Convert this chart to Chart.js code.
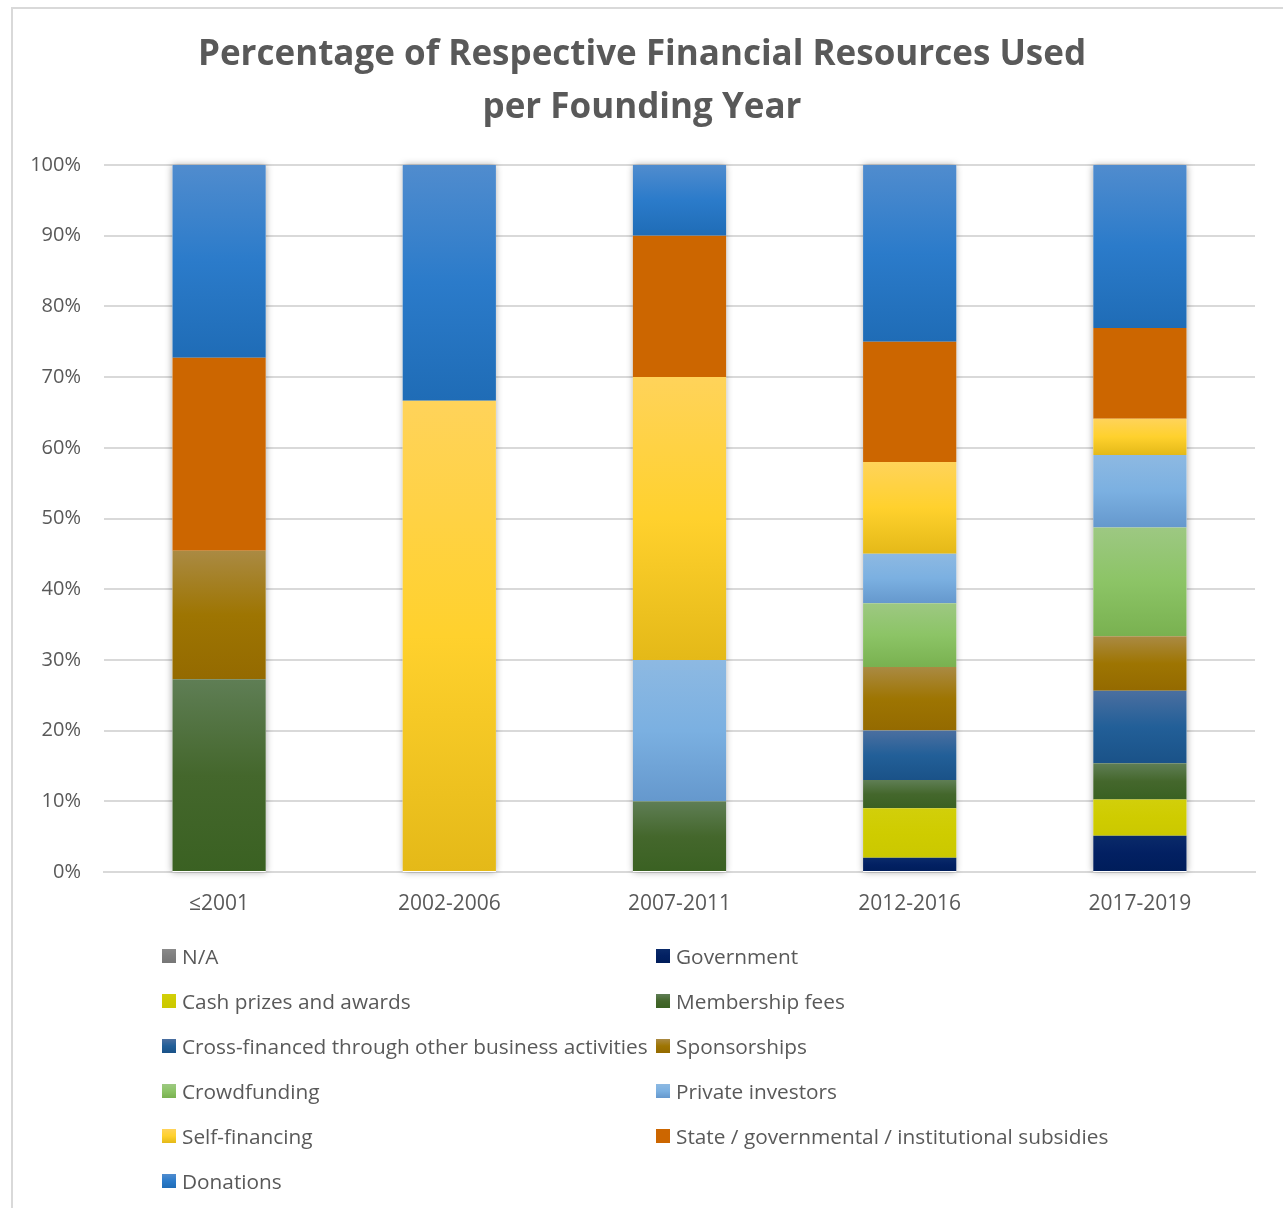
<!DOCTYPE html>
<html>
<head>
<meta charset="utf-8">
<title>Financial resources per founding year</title>
<script src="https://cdn.jsdelivr.net/npm/chart.js@4.4.1/dist/chart.umd.min.js"></script>
<style>
  body { margin: 0; background: #fff; }
  #frame {
    position: absolute; left: 11px; top: 7px; width: 1300px; height: 1230px;
    border: 2px solid #d9d9d9; box-sizing: border-box;
  }
  #wrap { position: absolute; left: 0; top: 0; width: 1283px; height: 935px; }
  #legend {
    position: absolute; left: 162px; top: 933px;
    display: grid; grid-template-columns: 494px 540px; grid-auto-rows: 45px;
    font-family: "Open Sans", sans-serif; font-size: 20.8px; color: #595959;
  }
  #legend .item { display: flex; align-items: center; white-space: nowrap; }
  #legend .box { width: 14px; height: 14px; margin-right: 6px; flex: none; }
</style>
</head>
<body>
<div id="frame"></div>
<div id="wrap"><canvas id="grafico"></canvas></div>
<div id="legend"></div>
<script>
// founding year groups
const anos = ['≤2001', '2002-2006', '2007-2011', '2012-2016', '2017-2019'];

// share (%) of each financing source, one value per year group
const naValues         = [0, 0, 0, 0, 0];
const government       = [0, 0, 0, 2, 5.13];
const cashPrizes       = [0, 0, 0, 7, 5.13];
const membershipFees   = [27.27, 0, 10, 4, 5.13];
const crossFinanced    = [0, 0, 0, 7, 10.26];
const sponsorships     = [18.18, 0, 0, 9, 7.69];
const crowdfunding     = [0, 0, 0, 9, 15.38];
const privateInvestors = [0, 0, 20, 7, 10.26];
const selfFinancing    = [0, 66.67, 40, 13, 5.13];
const subsidies        = [27.27, 0, 20, 17, 12.82];
const donations        = [27.27, 33.33, 10, 25, 23.08];

const yTicks = [0, 10, 20, 30, 40, 50, 60, 70, 80, 90, 100];

// gradient stops top -> bottom for each segment
const series = [
  { label: 'N/A', data: naValues, stops: ['#8a8a8a', '#7f7f7f', '#767676'] },
  { label: 'Government', data: government, stops: ['#0a2a6a', '#022062', '#001d5a'] },
  { label: 'Cash prizes and awards', data: cashPrizes, stops: ['#d2cf0a', '#cfcc00', '#cbc800'] },
  { label: 'Membership fees', data: membershipFees, stops: ['#5f7e55', '#44672c', '#3a6122'] },
  { label: 'Cross-financed through other business activities', data: crossFinanced, stops: ['#4b6fa0', '#225f98', '#1a5288'] },
  { label: 'Sponsorships', data: sponsorships, stops: ['#aa8a43', '#9e7502', '#946a00'] },
  { label: 'Crowdfunding', data: crowdfunding, stops: ['#9dc882', '#8cc466', '#79b150'] },
  { label: 'Private investors', data: privateInvestors, stops: ['#8db9e2', '#7bb0e1', '#6598cd'] },
  { label: 'Self-financing', data: selfFinancing, stops: ['#ffd35a', '#ffd12d', '#e4b918'] },
  { label: 'State / governmental / institutional subsidies', data: subsidies, stops: ['#cc6600', '#cc6600', '#cc6600'] },
  { label: 'Donations', data: donations, stops: ['#508cce', '#2b7bca', '#1f6cb6'] }
];

function gradiente(stops) {
  return function (c) {
    const chart = c.chart;
    if (!chart.chartArea || c.type !== 'data') return stops[1];
    const y = chart.scales.y;
    let abaixo = 0;
    for (let d = 0; d < c.datasetIndex; d++) abaixo += chart.data.datasets[d].data[c.dataIndex];
    const valor = chart.data.datasets[c.datasetIndex].data[c.dataIndex];
    const topo = y.getPixelForValue(abaixo + valor);
    const base = y.getPixelForValue(abaixo);
    if (!(base > topo)) return stops[1];
    const g = chart.ctx.createLinearGradient(0, topo, 0, base);
    g.addColorStop(0, stops[0]);
    g.addColorStop(0.5, stops[1]);
    g.addColorStop(1, stops[2]);
    return g;
  };
}

// soft shadow behind each full column
const sombraColunas = {
  id: 'sombraColunas',
  beforeDatasetsDraw(chart) {
    const ctx = chart.ctx;
    const metas = chart.data.datasets.map((_, i) => chart.getDatasetMeta(i));
    anos.forEach((_, i) => {
      let topo = Infinity, base = -Infinity, x = 0, w = 0;
      metas.forEach(m => {
        const el = m.data[i];
        if (!el) return;
        const p = el.getProps(['x', 'y', 'base', 'width'], true);
        topo = Math.min(topo, p.y, p.base);
        base = Math.max(base, p.y, p.base);
        x = p.x; w = p.width;
      });
      ctx.save();
      ctx.shadowColor = 'rgba(0,0,0,0.35)';
      ctx.shadowBlur = 7;
      ctx.fillStyle = '#ffffff';
      ctx.fillRect(x - w / 2, topo, w, base - topo);
      ctx.restore();
    });
  }
};

const ctx = document.getElementById('grafico').getContext('2d');

const meuGrafico = new Chart(ctx, {
  type: 'bar',
  data: {
    labels: anos,
    datasets: series.map(s => ({
      label: s.label,
      data: s.data,
      backgroundColor: gradiente(s.stops),
      borderWidth: 0,
      barPercentage: 0.405,
      categoryPercentage: 1
    }))
  },
  plugins: [sombraColunas],
  options: {
    responsive: true,
    maintainAspectRatio: false,
    animation: false,
    layout: { padding: { left: 29, right: 28, top: 0, bottom: 0 } },
    scales: {
      x: {
        stacked: true,
        grid: { display: false, drawTicks: false },
        border: { color: '#d9d9d9', width: 2 },
        ticks: { color: '#595959', font: { family: 'Open Sans', size: 21 }, padding: 19 },
        afterFit: s => { s.height = 63; }
      },
      y: {
        stacked: true,
        min: 0,
        max: 100,
        afterBuildTicks: s => { s.ticks = yTicks.map(v => ({ value: v })); },
        grid: { color: '#d9d9d9', lineWidth: 2, drawTicks: false },
        border: { display: false },
        ticks: {
          color: '#595959',
          font: { family: 'Open Sans', size: 20 },
          padding: 23,
          callback: v => v + '%'
        },
        afterFit: s => { s.width = 75; }
      }
    },
    plugins: {
      legend: { display: false },
      tooltip: { enabled: false },
      title: {
        display: true,
        text: ['Percentage of Respective Financial Resources Used', 'per Founding Year'],
        color: '#595959',
        font: { family: 'Open Sans', size: 35, weight: 'bold', lineHeight: 1.5 },
        padding: { top: 29, bottom: 31 }
      }
    }
  }
});

// legend in two columns, same order as the datasets
const legenda = document.getElementById('legend');
series.forEach(s => {
  const item = document.createElement('div');
  item.className = 'item';
  const box = document.createElement('span');
  box.className = 'box';
  box.style.background = 'linear-gradient(' + s.stops.join(',') + ')';
  item.appendChild(box);
  item.appendChild(document.createTextNode(s.label));
  legenda.appendChild(item);
});
</script>
</body>
</html>
